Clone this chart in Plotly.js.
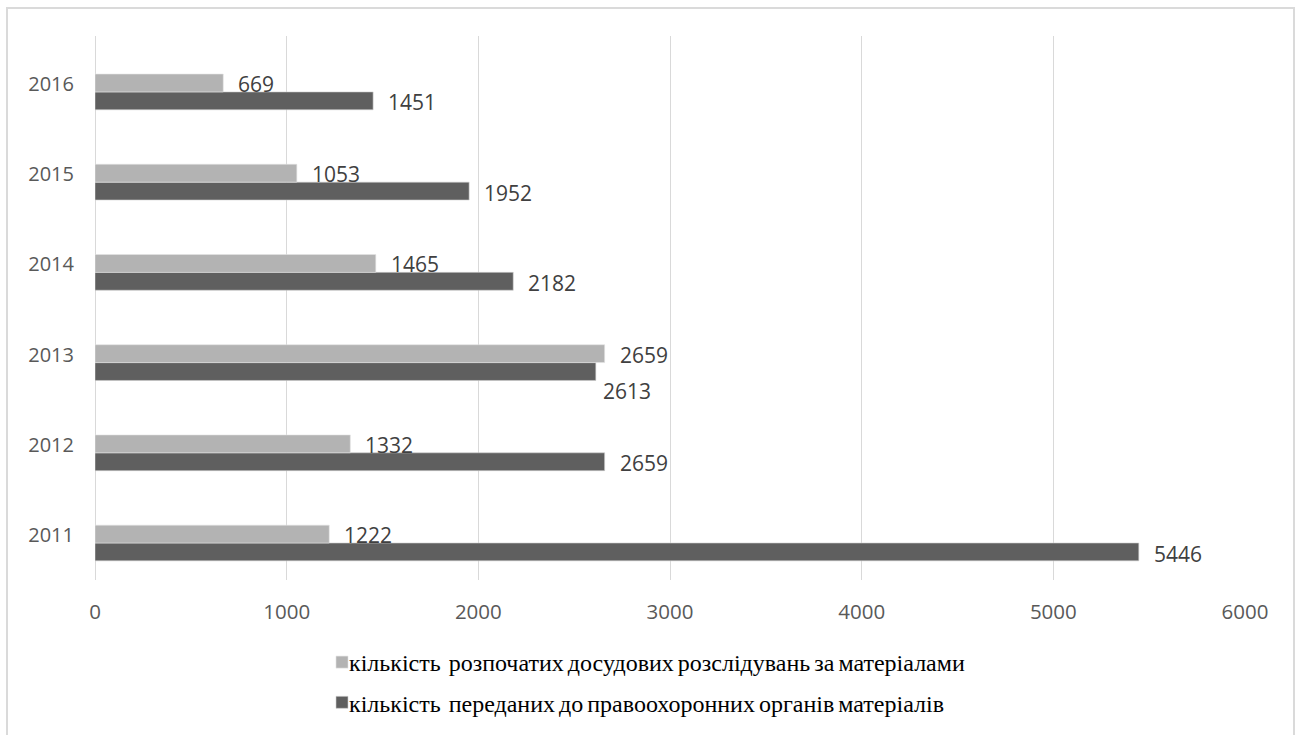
<!DOCTYPE html>
<html>
<head>
<meta charset="utf-8">
<script src="https://cdn.plot.ly/plotly-3.0.1.min.js"></script>
<style>
  html, body { margin: 0; padding: 0; background: #ffffff; }
  #wrap { position: relative; width: 1303px; height: 735px; overflow: hidden; }
  #chart { width: 1303px; height: 735px; }
  #frame {
    position: absolute; left: 6px; top: 7px; width: 1289px; height: 760px;
    border: 2px solid #dadada; pointer-events: none; box-sizing: border-box;
  }
  #chart .legendtext { word-spacing: -2px; }
  /* keep the legend swatches tight against their labels */
  #chart g.legendpoints { transform: translateX(13px); }
</style>
</head>
<body>
<div id="wrap">
  <div id="chart"></div>
  <div id="frame"></div>
</div>
<script>
// Years on the category axis (bottom to top)
const years = ['2011', '2012', '2013', '2014', '2015', '2016'];

// Pre-trial investigations opened on the basis of the materials
const opened = [1222, 1332, 2659, 1465, 1053, 669];

// Materials handed over to law-enforcement bodies
const transferred = [5446, 2659, 2613, 2182, 1952, 1451];

const nameOpened = 'кількість  розпочатих досудових розслідувань за матеріалами';
const nameTransferred = 'кількість  переданих до правоохоронних органів матеріалів';

const colOpened = '#b3b3b3';
const colTransferred = '#5f5f5f';

// Label placement (pixels), with a nudge where two labels would collide
const shiftOpened = { x: 13, y: 8 };
const shiftTransferred = { x: 13, y: -10.5 };
const nudgeTransferred = { '2013': { x: 5, y: -28 } };

const labelFont = { family: 'Open Sans, sans-serif', size: 21, color: '#404040' };

const traces = [
  {
    type: 'bar', orientation: 'h',
    name: nameTransferred, legendgroup: 'transferred', legendrank: 2,
    x: transferred, y: years,
    marker: { color: colTransferred, line: { color: '#d0d0d0', width: 0.6 } },
    hoverinfo: 'skip'
  },
  {
    type: 'bar', orientation: 'h',
    name: nameOpened, legendgroup: 'opened', legendrank: 1,
    x: opened, y: years,
    marker: { color: colOpened, line: { color: '#e2e2e2', width: 0.6 } },
    hoverinfo: 'skip'
  }
];

// Value labels sit at each bar's end; y uses the category index on the axis
const annotations = [];
years.forEach((yr, i) => {
  annotations.push({
    x: opened[i], y: i, xref: 'x', yref: 'y',
    text: String(opened[i]), showarrow: false,
    xanchor: 'left', yanchor: 'middle',
    xshift: shiftOpened.x, yshift: shiftOpened.y,
    font: labelFont
  });
  const n = nudgeTransferred[yr] || shiftTransferred;
  annotations.push({
    x: transferred[i], y: i, xref: 'x', yref: 'y',
    text: String(transferred[i]), showarrow: false,
    xanchor: 'left', yanchor: 'middle',
    xshift: n.x, yshift: n.y,
    font: labelFont
  });
});

const layout = {
  width: 1303, height: 735,
  margin: { l: 95, r: 58, t: 36, b: 155, pad: 0, autoexpand: false },
  paper_bgcolor: '#ffffff', plot_bgcolor: '#ffffff',
  barmode: 'group', bargap: 0.604, bargroupgap: 0,
  showlegend: true,
  legend: {
    orientation: 'v', traceorder: 'grouped', tracegroupgap: 6,
    x: (309 - 95) / 1150, xanchor: 'left',
    y: (580 - 640) / 544, yanchor: 'top',
    font: { family: 'Liberation Serif, Times New Roman, serif', size: 24, color: '#000000' },
    bgcolor: 'rgba(0,0,0,0)'
  },
  xaxis: {
    range: [0, 6000], dtick: 1000, tick0: 0,
    showgrid: true, gridcolor: '#d9d9d9', gridwidth: 1,
    zeroline: true, zerolinecolor: '#d9d9d9', zerolinewidth: 1,
    showline: false, ticks: '', ticklabelstandoff: 17,
    tickfont: { family: 'Open Sans, sans-serif', size: 20.5, color: '#595959' },
    fixedrange: true
  },
  yaxis: {
    type: 'category', categoryorder: 'array', categoryarray: years,
    range: [-0.41, 5.62],
    showgrid: false, zeroline: false, showline: false,
    ticks: '', ticklabelstandoff: 20, ticklabelshift: -8,
    tickfont: { family: 'Open Sans, sans-serif', size: 20, color: '#595959' },
    fixedrange: true
  },
  annotations: annotations,
  hovermode: false
};

Plotly.newPlot('chart', traces, layout, { displayModeBar: false, staticPlot: true });
</script>
</body>
</html>
